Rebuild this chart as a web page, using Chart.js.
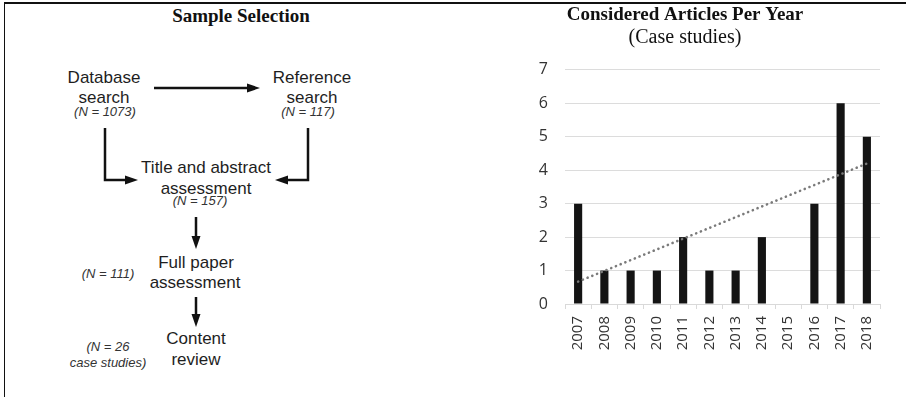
<!DOCTYPE html>
<html>
<head>
<meta charset="utf-8">
<script src="https://cdn.jsdelivr.net/npm/chart.js@4"></script>
<style>
  html, body { margin: 0; padding: 0; background: #fff; }
  #page { position: relative; width: 906px; height: 397px; overflow: hidden; }
  #frame { position: absolute; left: 4px; top: 2px; right: 0; bottom: 0;
           border-top: 2px solid #111; border-left: 1.5px solid #111; }
  .t { position: absolute; transform: translate(-50%, -50%); white-space: nowrap;
       font-family: "Liberation Sans", Arial, sans-serif; font-size: 17px; color: #1e1e1e; line-height: 1; }
  .n { font-size: 13px; font-style: italic; color: #333; }
  .head { font-family: "Liberation Serif", "Times New Roman", serif; font-weight: bold; font-size: 19px; color: #111; }
  #arrows { position: absolute; left: 0; top: 0; }
  #chartBox { position: absolute; left: 490px; top: 0; width: 410px; height: 397px; }
</style>
</head>
<body>
<div id="page">
  <div id="frame"></div>

  <div class="t head" style="left:241px; top:15px;">Sample Selection</div>

  <div class="t" style="left:104px; top:77px;">Database</div>
  <div class="t" style="left:104px; top:97px;">search</div>
  <div class="t n" style="left:105px; top:111px;">(N = 1073)</div>

  <div class="t" style="left:312px; top:77px;">Reference</div>
  <div class="t" style="left:312px; top:97px;">search</div>
  <div class="t n" style="left:308px; top:111px;">(N = 117)</div>

  <div class="t" style="left:206px; top:167px;">Title and abstract</div>
  <div class="t" style="left:206px; top:188px;">assessment</div>
  <div class="t n" style="left:200px; top:200px;">(N = 157)</div>

  <div class="t" style="left:196px; top:262px;">Full paper</div>
  <div class="t" style="left:195px; top:282px;">assessment</div>
  <div class="t n" style="left:108px; top:273px;">(N = 111)</div>

  <div class="t" style="left:196px; top:338px;">Content</div>
  <div class="t" style="left:196px; top:359px;">review</div>
  <div class="t n" style="left:108px; top:346px;">(N = 26</div>
  <div class="t n" style="left:108px; top:362px;">case studies)</div>

  <svg id="arrows" width="490" height="397">
    <g stroke="#111" stroke-width="2.5" fill="none">
      <line x1="154" y1="88" x2="249" y2="88"/>
      <polyline points="105,128 105,180 127,180"/>
      <polyline points="308,128 308,180 286,180"/>
      <line x1="196" y1="217" x2="196" y2="238"/>
      <line x1="196" y1="297" x2="196" y2="316"/>
    </g>
    <g fill="#111">
      <polygon points="260,88 247,83.5 247,92.5"/>
      <polygon points="138,180 125,175.5 125,184.5"/>
      <polygon points="275,180 288,175.5 288,184.5"/>
      <polygon points="196,249 191.5,236 200.5,236"/>
      <polygon points="196,327 191.5,314 200.5,314"/>
    </g>
  </svg>

  <div id="chartBox"><canvas id="chart"></canvas></div>
</div>

<script>
const years = ['2007', '2008', '2009', '2010', '2011', '2012', '2013', '2014', '2015', '2016', '2017', '2018'];
const articles = [3, 1, 1, 1, 2, 1, 1, 2, 0, 3, 6, 5];
// dotted trend line at its two ends
const trendValues = [0.67, null, null, null, null, null, null, null, null, null, null, 4.2];
const yTicks = [0, 1, 2, 3, 4, 5, 6, 7];

new Chart(document.getElementById('chart'), {
  type: 'bar',
  data: {
    labels: years,
    datasets: [{
      type: 'line',
      data: trendValues,
      spanGaps: true,
      borderColor: '#7a7a7a',
      borderWidth: 2.6,
      borderDash: [0.1, 5],
      borderCapStyle: 'round',
      pointRadius: 0,
      fill: false,
      order: 0
    }, {
      data: articles,
      backgroundColor: '#141414',
      barPercentage: 0.31,
      categoryPercentage: 1,
      order: 1
    }]
  },
  options: {
    responsive: true,
    maintainAspectRatio: false,
    animation: false,
    layout: { padding: { top: 5, right: 20, bottom: 0, left: 0 } },
    plugins: {
      legend: { display: false },
      tooltip: { enabled: false },
      title: {
        display: true,
        text: 'Considered Articles Per Year',
        color: '#111',
        font: { family: "'Liberation Serif', serif", size: 19, weight: 'bold', lineHeight: 1.1 },
        padding: { top: 0, bottom: 0 }
      },
      subtitle: {
        display: true,
        text: '(Case studies)',
        color: '#111',
        font: { family: "'Liberation Serif', serif", size: 20 },
        padding: { top: 0, bottom: 20 }
      }
    },
    scales: {
      x: {
        grid: { display: true, drawOnChartArea: false, drawTicks: true, tickLength: 5, color: '#d9d9d9', offset: true },
        border: { display: true, color: '#d9d9d9' },
        ticks: { color: '#333', font: { family: "'Open Sans', sans-serif", size: 15 }, minRotation: 90, maxRotation: 90, padding: 7 },
        afterFit: function (scale) { scale.height = 93; }
      },
      y: {
        min: 0,
        max: 7,
        afterBuildTicks: function (scale) { scale.ticks = yTicks.map(v => ({ value: v })); },
        grid: { color: '#dcdcdc', drawTicks: false },
        border: { display: false },
        ticks: { color: '#333', font: { family: "'Open Sans', sans-serif", size: 16 }, padding: 17 },
        afterFit: function (scale) { scale.width = 75; }
      }
    }
  }
});
</script>
</body>
</html>
